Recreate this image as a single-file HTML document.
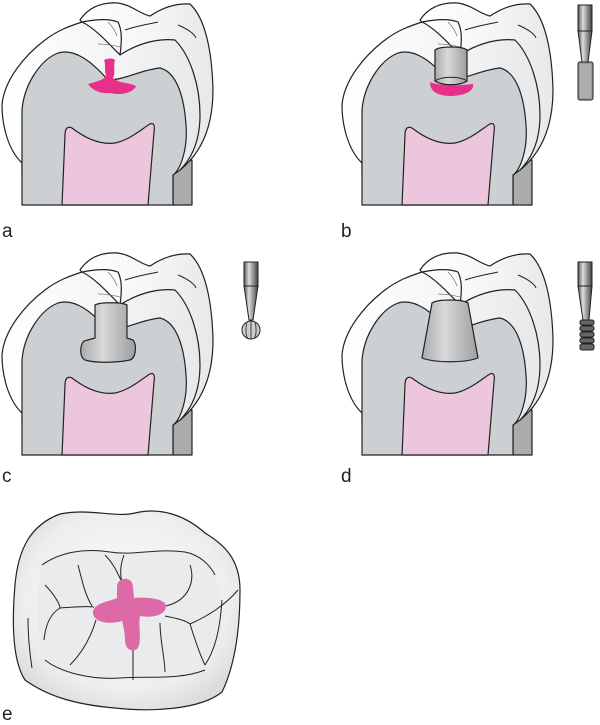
<!DOCTYPE html>
<html><head><meta charset="utf-8"><style>
html,body{margin:0;padding:0;background:#fff;}
svg{display:block;}
text{font-family:"Liberation Sans",sans-serif;font-size:19px;fill:#222;}
</style></head><body>
<svg width="600" height="725" viewBox="0 0 600 725" xmlns="http://www.w3.org/2000/svg">
<defs>
<linearGradient id="en" x1="0" y1="0" x2="1" y2="0">
<stop offset="0" stop-color="#ffffff"/><stop offset="0.6" stop-color="#f3f4f5"/><stop offset="1" stop-color="#e6e8e9"/>
</linearGradient>
<linearGradient id="cav" x1="0" y1="0" x2="1" y2="0">
<stop offset="0" stop-color="#a9abad"/><stop offset="0.4" stop-color="#d8d9da"/><stop offset="1" stop-color="#9c9ea0"/>
</linearGradient>
<linearGradient id="shank" x1="0" y1="0" x2="1" y2="0">
<stop offset="0" stop-color="#555"/><stop offset="0.35" stop-color="#ddd"/><stop offset="0.7" stop-color="#888"/><stop offset="1" stop-color="#444"/>
</linearGradient>
<radialGradient id="occ" cx="0.5" cy="0.45" r="0.6">
<stop offset="0" stop-color="#fdfdfd"/><stop offset="0.75" stop-color="#eceeef"/><stop offset="1" stop-color="#d9dbdd"/>
</radialGradient>
<g id="tooth" stroke="#222" stroke-width="1.2" stroke-linejoin="round">
  <path d="M173 165 L192 160 L192 205 L173 205 Z" fill="#a9abad"/>
  <path d="M80 20 C88 8 100 2 118 3 C132 5 140 14 150 16 C162 8 175 3 190 4 C205 18 212 50 213 90 C213 120 205 150 180 170 L150 100 Z" fill="url(#en)"/>
  <path d="M22 163 C8 150 2 125 2 105 C4 80 25 55 45 40 C58 30 70 26 82 22 C95 28 110 45 120 55 C135 45 155 38 175 40 C190 55 200 85 200 115 C200 140 192 158 180 170 L173 175 L22 175 Z" fill="url(#en)"/>
  <path d="M22 205 L22 110 C24 85 40 60 58 53 C75 48 92 62 108 80 C125 80 140 70 160 68 C176 72 184 95 186 125 C188 150 180 170 173 175 L173 205 Z" fill="#cdd0d2"/>
  <path d="M62 205 L65 135 C65 128 68 126 72 128 C85 138 100 145 115 143 C130 140 143 128 150 124 C154 122 155 126 154 132 L148 205 Z" fill="#ebc6dd"/>
  <path d="M82 22 C92 20 108 18 118 22 C122 30 122 40 120 55" fill="none"/>
  <path d="M125 30 C140 25 150 24 158 22" fill="none" stroke-width="1"/>
  <path d="M178 25 C190 30 195 35 196 38" fill="none" stroke-width="1"/>
  <path d="M108 22 C112 26 115 30 117 36" fill="none" stroke="#777" stroke-width="0.8"/>
  <path d="M98 44 C105 44 112 45 120 47" fill="none" stroke="#777" stroke-width="0.8"/>
</g>
</defs>

<use href="#tooth"/>
<path d="M104 60 C108 58 113 58 115 60 C113 66 116 72 113 78 C120 84 128 82 136 86 C134 92 122 96 110 93 C100 94 92 90 88 84 C95 82 104 80 106 76 C104 70 106 64 104 60 Z" fill="#e8308a"/>
<text x="2" y="237">a</text>

<g transform="translate(340,0)">
<use href="#tooth"/>
<path d="M90 82 C100 86 115 86 133 84 C134 90 128 95 112 96 C98 96 90 92 90 82 Z" fill="#e8308a"/>
<path d="M95 50 C100 46 122 46 127 50 L127 81 C120 86 102 86 95 81 Z" fill="url(#cav)" stroke="#222" stroke-width="1.2"/>
<path d="M95 81 C102 76 120 76 127 81" fill="none" stroke="#222" stroke-width="1"/>
</g>
<text x="341" y="237">b</text>
<rect x="578" y="5" width="14" height="26" fill="url(#shank)" stroke="#222"/>
<path d="M578 31 L592 31 L588 62 L582 62 Z" fill="url(#shank)" stroke="#222"/>
<rect x="578" y="62" width="15" height="38" rx="2" fill="#999" stroke="#222"/>
<rect x="580" y="64" width="11" height="34" fill="#bbb" opacity="0.6"/>

<g transform="translate(0,250)">
<use href="#tooth"/>
<path d="M95 55 C100 52 122 52 127 55 L127 88 L133 90 C137 95 136 108 130 110 C115 113 95 113 85 110 C79 107 80 95 84 91 L95 88 Z" fill="url(#cav)" stroke="#222" stroke-width="1.2"/>
</g>
<text x="2" y="482">c</text>
<rect x="244" y="262" width="14" height="24" fill="url(#shank)" stroke="#222"/>
<path d="M244 286 L258 286 L253 320 L249 320 Z" fill="url(#shank)" stroke="#222"/>
<circle cx="251" cy="330" r="9" fill="#ccc" stroke="#222"/>
<path d="M247 322 C245 330 246 336 248 339 M251 321 L251 339 M255 322 C257 330 256 336 254 339" stroke="#444" fill="none"/>

<g transform="translate(340,250)">
<use href="#tooth"/>
<path d="M92 53 C98 49 122 49 128 53 L138 108 C125 113 95 113 82 108 Z" fill="url(#cav)" stroke="#222" stroke-width="1.2"/>
</g>
<text x="341" y="482">d</text>
<rect x="578" y="262" width="14" height="24" fill="url(#shank)" stroke="#222"/>
<path d="M578 286 L592 286 L589 320 L583 320 Z" fill="url(#shank)" stroke="#222"/>
<g fill="#666" stroke="#222">
<rect x="580" y="320" width="14" height="5" rx="2"/>
<rect x="580" y="326" width="14" height="5" rx="2"/>
<rect x="580" y="332" width="14" height="5" rx="2"/>
<rect x="580" y="338" width="14" height="5" rx="2"/>
<rect x="580" y="344" width="14" height="6" rx="2"/>
</g>

<path d="M15 585 C18 550 30 525 60 514 C90 508 115 518 135 513 C160 507 185 515 205 533 C225 545 240 560 240 590 C240 630 235 665 222 692 C200 710 150 712 115 708 C80 705 50 698 25 680 C12 660 12 620 15 585 Z" fill="url(#occ)" stroke="#222" stroke-width="1.2"/>
<path d="M42 565 C60 552 85 548 110 552 C135 556 155 548 185 552 C205 556 215 570 220 590 C224 615 225 640 210 668 C180 680 150 676 120 678 C90 680 65 675 45 665 C36 640 35 600 42 565 Z" fill="#e9ebec"/>
<g stroke="#222" stroke-width="1" fill="none">
<path d="M42 565 C60 552 85 548 110 552 C135 556 155 548 185 552 C200 555 210 565 215 575"/>
<path d="M45 660 C60 672 90 680 120 678 C150 676 180 680 205 670"/>
<path d="M105 555 C115 565 118 575 122 582"/>
<path d="M124 555 C120 565 120 575 122 582"/>
<path d="M78 565 C82 580 85 595 92 606"/>
<path d="M45 585 C55 595 60 605 60 608 C75 607 85 606 94 607"/>
<path d="M60 608 C48 615 45 630 44 640"/>
<path d="M96 620 C90 640 80 655 70 665"/>
<path d="M133 650 C133 660 133 675 133 680"/>
<path d="M160 623 C160 640 165 660 165 672"/>
<path d="M165 616 C175 618 185 620 190 624 C195 640 200 655 205 665"/>
<path d="M190 624 C210 615 225 605 238 590"/>
<path d="M190 565 C195 580 190 600 166 606"/>
<path d="M222 600 C220 630 215 650 205 665"/>
<path d="M28 618 C28 635 30 655 32 668"/>
</g>
<path d="M117 587 C117 576 133 576 133 587 L134 598 C145 597 165 598 166 606 C166 616 150 618 140 616 C138 625 142 640 138 648 C133 653 125 650 125 640 C125 632 123 625 122 621 C112 624 96 624 93 614 C92 603 108 602 117 598 Z" fill="#dd6aa6"/>
<text x="2" y="720">e</text>
</svg>
</body></html>
